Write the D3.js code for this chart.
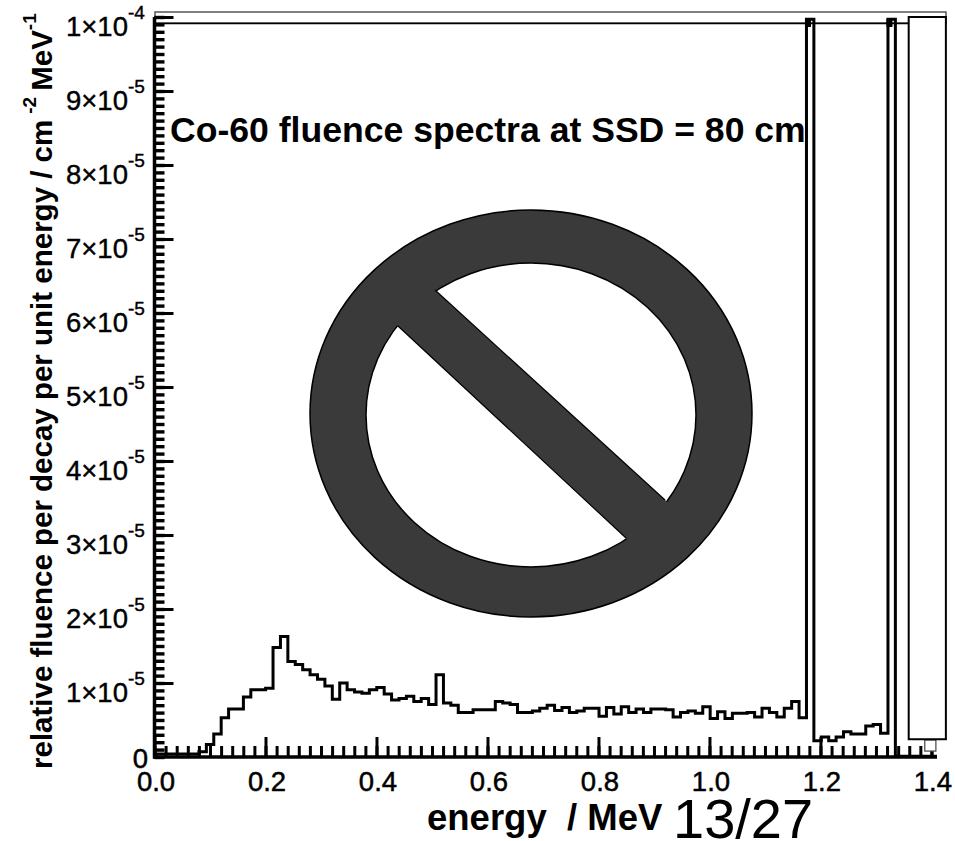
<!DOCTYPE html>
<html><head><meta charset="utf-8">
<script src="https://cdn.jsdelivr.net/npm/d3@7"></script>
<style>html,body{margin:0;padding:0;background:#fff}svg{display:block}text{font-family:"Liberation Sans",Arial,sans-serif;fill:#000}</style>
</head><body><svg id="c" width="955" height="841"></svg>
<script>
// Histogram bin heights, in units of 1e-6
const binWidth = 0.01335;
const binValues = [0.4,0.4,0.4,0.4,0.4,0.4,0.7,1.7,3.1,5.3,6.5,6.5,8.1,9.1,9.1,9.3,14.8,16.3,12.9,12.5,11.8,11.1,
10.5,9.6,7.8,10.0,9.1,8.8,8.6,9.1,9.4,8.5,7.7,7.9,8.2,7.5,7.9,7.1,11.1,7.3,7.0,6.0,6.0,6.4,
6.4,6.4,7.5,7.3,7.1,6.0,6.0,6.2,6.6,7.0,6.3,6.7,6.0,6.2,6.6,6.6,5.5,6.7,5.8,6.8,6.0,6.5,
6.0,6.5,6.5,6.4,5.4,6.0,6.2,5.9,6.8,5.2,6.1,5.2,5.9,5.9,6.0,5.4,6.6,6.0,5.4,6.6,7.5,5.3,
99.7,2.2,2.7,2.2,2.7,3.4,3.1,3.1,4.2,4.4,3.2,99.7,0.1,0.1,0.1,0.1,0.1,0.1];
const peakEnergies = [1.1775,1.3243];
const xTickLabels = ["0.0","0.2","0.4","0.6","0.8","1.0","1.2","1.4"];
const xTickValues = [0,0.2,0.4,0.6,0.8,1.0,1.2,1.4];
const yMantissas = [1,2,3,4,5,6,7,8,9,1];
const yExponents = ["-5","-5","-5","-5","-5","-5","-5","-5","-5","-4"];
const yTickValues = [10,20,30,40,50,60,70,80,90,100];
const coverBox = {e0:1.359, e1:1.426, v0:2.4, v1:100};
const smallBox = {e0:1.388, e1:1.408, v0:0.8, v1:2.3};
const titleText = "Co-60 fluence spectra at SSD = 80 cm";
const xLabel = "energy  / MeV";
const pageMark = "13/27";

const svg = d3.select("#c");
const x = d3.scaleLinear().domain([0,1.41]).range([154.5,937]);
const y = d3.scaleLinear().domain([0,100]).range([757,17]);

// Frame
svg.append("rect").attr("x",155).attr("y",12).attr("width",791).attr("height",11)
  .attr("fill","#fff").attr("stroke","#555").attr("stroke-width",1.5);
svg.append("line").attr("x1",155).attr("x2",908).attr("y1",23.5).attr("y2",23.5).attr("stroke","#000").attr("stroke-width",1.5);

// Ticks
const xMinor = d3.range(0,71).map(i=>i*0.02).filter(v=>v<=1.41);
const yMinor = d3.range(0,101);
svg.append("g").attr("transform","translate(0,757)")
  .call(d3.axisTop(x).tickValues(xMinor).tickSize(11).tickFormat(""))
  .call(g=>{g.select(".domain").remove();g.selectAll("line").attr("stroke","#000").style("stroke-width","3px");});
svg.append("g").attr("transform","translate(0,757)")
  .call(d3.axisTop(x).tickValues(xTickValues).tickSize(20).tickFormat(""))
  .call(g=>{g.select(".domain").remove();g.selectAll("line").attr("stroke","#000").style("stroke-width","3px");});
svg.append("g").attr("transform","translate(154.5,0)")
  .call(d3.axisRight(y).tickValues(yMinor).tickSize(10).tickFormat(""))
  .call(g=>{g.select(".domain").remove();g.selectAll("line").attr("stroke","#000").style("stroke-width","3.4px");});
svg.append("g").attr("transform","translate(154.5,0)")
  .call(d3.axisRight(y).tickValues(yTickValues).tickSize(19).tickFormat(""))
  .call(g=>{g.select(".domain").remove();g.selectAll("line").attr("stroke","#000").style("stroke-width","3px");});
svg.append("line").attr("x1",154.5).attr("x2",154.5).attr("y1",17).attr("y2",758.5).attr("stroke","#000").attr("stroke-width",3.5);
svg.append("line").attr("x1",153).attr("x2",x(1.41)).attr("y1",757).attr("y2",757).attr("stroke","#000").attr("stroke-width",3.5);

// Histogram
const pts = [];
binValues.forEach((v,i)=>{ const e0=i*binWidth, e1=Math.min((i+1)*binWidth,1.41);
  pts.push([e0,v]); pts.push([e1,v]); });
const line = d3.line().x(d=>x(d[0])).y(d=>y(d[1]));
svg.append("path").attr("d",line(pts)).attr("fill","none").attr("stroke","#000").attr("stroke-width",3).attr("stroke-linejoin","miter");
svg.selectAll(".knob").data(peakEnergies).join("rect").attr("class","knob").attr("x",d=>x(d)-3).attr("y",19).attr("width",6).attr("height",8).attr("fill","#000");

// Covering boxes
svg.append("rect").attr("x",x(smallBox.e0)).attr("y",y(smallBox.v1)).attr("width",x(smallBox.e1)-x(smallBox.e0)).attr("height",y(smallBox.v0)-y(smallBox.v1))
  .attr("fill","#fff").attr("stroke","#444").attr("stroke-width",1.2);
svg.append("rect").attr("x",x(coverBox.e0)).attr("y",y(coverBox.v1)).attr("width",x(coverBox.e1)-x(coverBox.e0)).attr("height",y(coverBox.v0)-y(coverBox.v1))
  .attr("fill","#fff").attr("stroke","#000").attr("stroke-width",2);

// Tick labels
svg.selectAll(".xl").data(xTickLabels).join("text").attr("class","xl")
  .attr("x",(d,i)=>x(xTickValues[i])+1.5).attr("y",791).attr("text-anchor","middle")
  .attr("font-size",27.5).attr("stroke","#000").attr("stroke-width",0.5).text(d=>d);
svg.append("text").attr("x",148).attr("y",768).attr("text-anchor","end").attr("font-size",27.5).attr("stroke","#000").attr("stroke-width",0.5).text("0");
yTickValues.forEach((v,i)=>{
  const t = svg.append("text").attr("x",66).attr("y",y(v)+19).attr("font-size",27.5).attr("stroke","#000").attr("stroke-width",0.4);
  t.append("tspan").text(yMantissas[i]+"×10");
  t.append("tspan").attr("font-size",19).attr("dy",-17).text(yExponents[i]);
});

// Titles
svg.append("text").attr("x",170).attr("y",142).attr("font-size",35.6).attr("font-weight","bold").text(titleText);
svg.append("text").attr("x",427).attr("y",830).attr("font-size",36.5).attr("font-weight","bold").style("white-space","pre").text(xLabel);
const yt = svg.append("text").attr("transform","translate(52,769) rotate(-90)").attr("font-size",29.5).attr("font-weight","bold");
yt.append("tspan").text("relative fluence per decay per unit energy / cm");
yt.append("tspan").attr("font-size",19).attr("dy",-16).attr("dx",6).text("-2");
yt.append("tspan").attr("dy",16).attr("dx",6).text("MeV");
yt.append("tspan").attr("font-size",19).attr("dy",-16).text("-1");

// Page mark
svg.append("text").attr("x",673).attr("y",838).attr("font-size",56).text(pageMark);

// Prohibition sign
const sign = svg.append("g");
const dark = "#3a3a3a";
sign.append("ellipse").attr("cx",531).attr("cy",413.5).attr("rx",221).attr("ry",203.5).attr("fill",dark).attr("stroke","#000").attr("stroke-width",1.5);
sign.append("ellipse").attr("cx",531).attr("cy",415).attr("rx",165).attr("ry",152).attr("fill","#fff").attr("stroke","#000").attr("stroke-width",1.5);
sign.append("polygon").attr("points","392,320.4 429,284.5 671,505.5 632,543.6").attr("fill",dark);
sign.append("line").attr("x1",398).attr("y1",326).attr("x2",626).attr("y2",538).attr("stroke","#000").attr("stroke-width",1.2);
sign.append("line").attr("x1",435).attr("y1",290).attr("x2",665).attr("y2",500).attr("stroke","#000").attr("stroke-width",1.2);
</script></body></html>
